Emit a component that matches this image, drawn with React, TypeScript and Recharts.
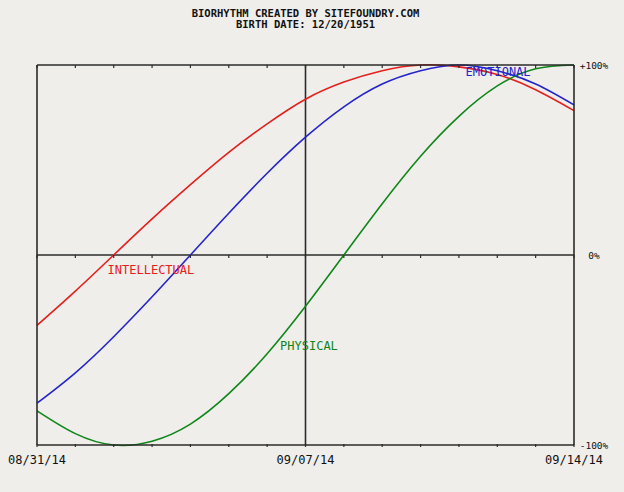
import React from "react";
import {
  LineChart,
  Line,
  XAxis,
  YAxis,
  ReferenceLine,
  ReferenceDot,
} from "recharts";

// day offsets from 08/31/14
const days = [0, 1, 2, 3, 4, 5, 6, 7, 8, 9, 10, 11, 12, 13, 14];
const dateLabels: Record<number, string> = {
  0: "08/31/14",
  7: "09/07/14",
  14: "09/14/14",
};

// values in percent
const physical = [-82, -94, -100, -98, -89, -73, -52, -27, 0, 27, 52, 73, 89, 98, 100];
const emotional = [-78, -62, -43, -22, 0, 22, 43, 62, 78, 90, 97, 100, 97, 90, 79];
const intellectual = [-37, -19, 0, 19, 37, 54, 69, 82, 91, 97, 100, 99, 95, 87, 76];

const percentTicks = [-100, 0, 100];
const percentLabels: Record<number, string> = { "-100": "-100%", 0: "0%", 100: "+100%" };

const seriesLabels = [
  { name: "INTELLECTUAL", day: 2.97, value: -8, color: "#e3201c" },
  { name: "EMOTIONAL", day: 12.02, value: 96.5, color: "#2424c8" },
  { name: "PHYSICAL", day: 7.09, value: -48, color: "#10861a" },
];

const rows = days.map((day, i) => ({
  day,
  physical: physical[i],
  emotional: emotional[i],
  intellectual: intellectual[i],
  zero: 0,
}));

const FONT = "'DejaVu Sans Mono', 'Liberation Mono', monospace";
const INK = "#2b2b2b";

function BottomTick(props: any) {
  const { x, y, payload } = props;
  const label = dateLabels[payload.value];
  return (
    <g>
      <line x1={x} x2={x} y1={y - 1} y2={y + 2} stroke={INK} strokeWidth={1.2} />
      {label && (
        <text x={x} y={y + 19} textAnchor="middle" fontFamily={FONT} fontSize={12} fill="#111">
          {label}
        </text>
      )}
    </g>
  );
}

function TopTick(props: any) {
  const { x, y } = props;
  return <line x1={x} x2={x} y1={y} y2={y + 3} stroke={INK} strokeWidth={1.2} />;
}

function RightTick(props: any) {
  const { x, y, payload } = props;
  return (
    <text x={x + 20} y={y + 4} textAnchor="middle" fontFamily={FONT} fontSize={9.5} fill="#111">
      {percentLabels[payload.value]}
    </text>
  );
}

function ZeroTick(props: any) {
  const { cx, cy, index } = props;
  return <line key={index} x1={cx} x2={cx} y1={cy} y2={cy + 3} stroke={INK} strokeWidth={1.2} />;
}

export default function App() {
  return (
    <div
      style={{
        position: "absolute",
        left: 0,
        top: 0,
        width: 624,
        height: 492,
        background: "#efeeeb",
        fontFamily: FONT,
      }}
    >
      <div
        style={{
          position: "absolute",
          top: 8,
          left: 0,
          width: 611,
          textAlign: "center",
          fontSize: 10.5,
          fontWeight: "bold",
          lineHeight: "11px",
          color: "#111",
          whiteSpace: "pre",
        }}
      >
        {"BIORHYTHM CREATED BY SITEFOUNDRY.COM\nBIRTH DATE: 12/20/1951"}
      </div>
      <LineChart
        width={624}
        height={492}
        data={rows}
        margin={{ top: 64, right: 49, bottom: 46, left: 36 }}
        style={{ position: "absolute", left: 0, top: 0 }}
      >
        <XAxis
          xAxisId="bottom"
          dataKey="day"
          type="number"
          domain={[0, 14]}
          ticks={days}
          interval={0}
          height={1}
          tickSize={0}
          tickMargin={0}
          tickLine={false}
          tick={BottomTick}
          axisLine={{ stroke: INK, strokeWidth: 1.6 }}
        />
        <XAxis
          xAxisId="top"
          orientation="top"
          dataKey="day"
          type="number"
          domain={[0, 14]}
          ticks={days}
          interval={0}
          height={1}
          tickSize={0}
          tickMargin={0}
          tickLine={false}
          tick={TopTick}
          axisLine={{ stroke: INK, strokeWidth: 1.6 }}
        />
        <YAxis
          yAxisId="left"
          type="number"
          domain={[-100, 100]}
          width={1}
          tick={false}
          tickLine={false}
          axisLine={{ stroke: INK, strokeWidth: 1.6 }}
        />
        <YAxis
          yAxisId="right"
          orientation="right"
          type="number"
          domain={[-100, 100]}
          ticks={percentTicks}
          interval={0}
          width={1}
          tickSize={0}
          tickMargin={0}
          tickLine={false}
          tick={RightTick}
          axisLine={{ stroke: INK, strokeWidth: 1.6 }}
        />
        <ReferenceLine xAxisId="bottom" yAxisId="left" x={7} stroke={INK} strokeWidth={1.6} />
        <Line
          xAxisId="top"
          yAxisId="right"
          dataKey="zero"
          type="linear"
          stroke={INK}
          strokeWidth={1.6}
          dot={ZeroTick}
          activeDot={false}
          isAnimationActive={false}
        />
        <Line
          xAxisId="bottom"
          yAxisId="left"
          dataKey="intellectual"
          type="natural"
          stroke="#e3201c"
          strokeWidth={1.6}
          dot={false}
          isAnimationActive={false}
        />
        <Line
          xAxisId="bottom"
          yAxisId="left"
          dataKey="emotional"
          type="natural"
          stroke="#2424c8"
          strokeWidth={1.6}
          dot={false}
          isAnimationActive={false}
        />
        <Line
          xAxisId="bottom"
          yAxisId="left"
          dataKey="physical"
          type="natural"
          stroke="#10861a"
          strokeWidth={1.6}
          dot={false}
          isAnimationActive={false}
        />
        {seriesLabels.map((s) => (
          <ReferenceDot
            key={s.name}
            xAxisId="bottom"
            yAxisId="left"
            x={s.day}
            y={s.value}
            r={0}
            stroke="none"
            label={{
              value: s.name,
              position: "center",
              fill: s.color,
              fontFamily: FONT,
              fontSize: 12,
            }}
          />
        ))}
      </LineChart>
    </div>
  );
}
